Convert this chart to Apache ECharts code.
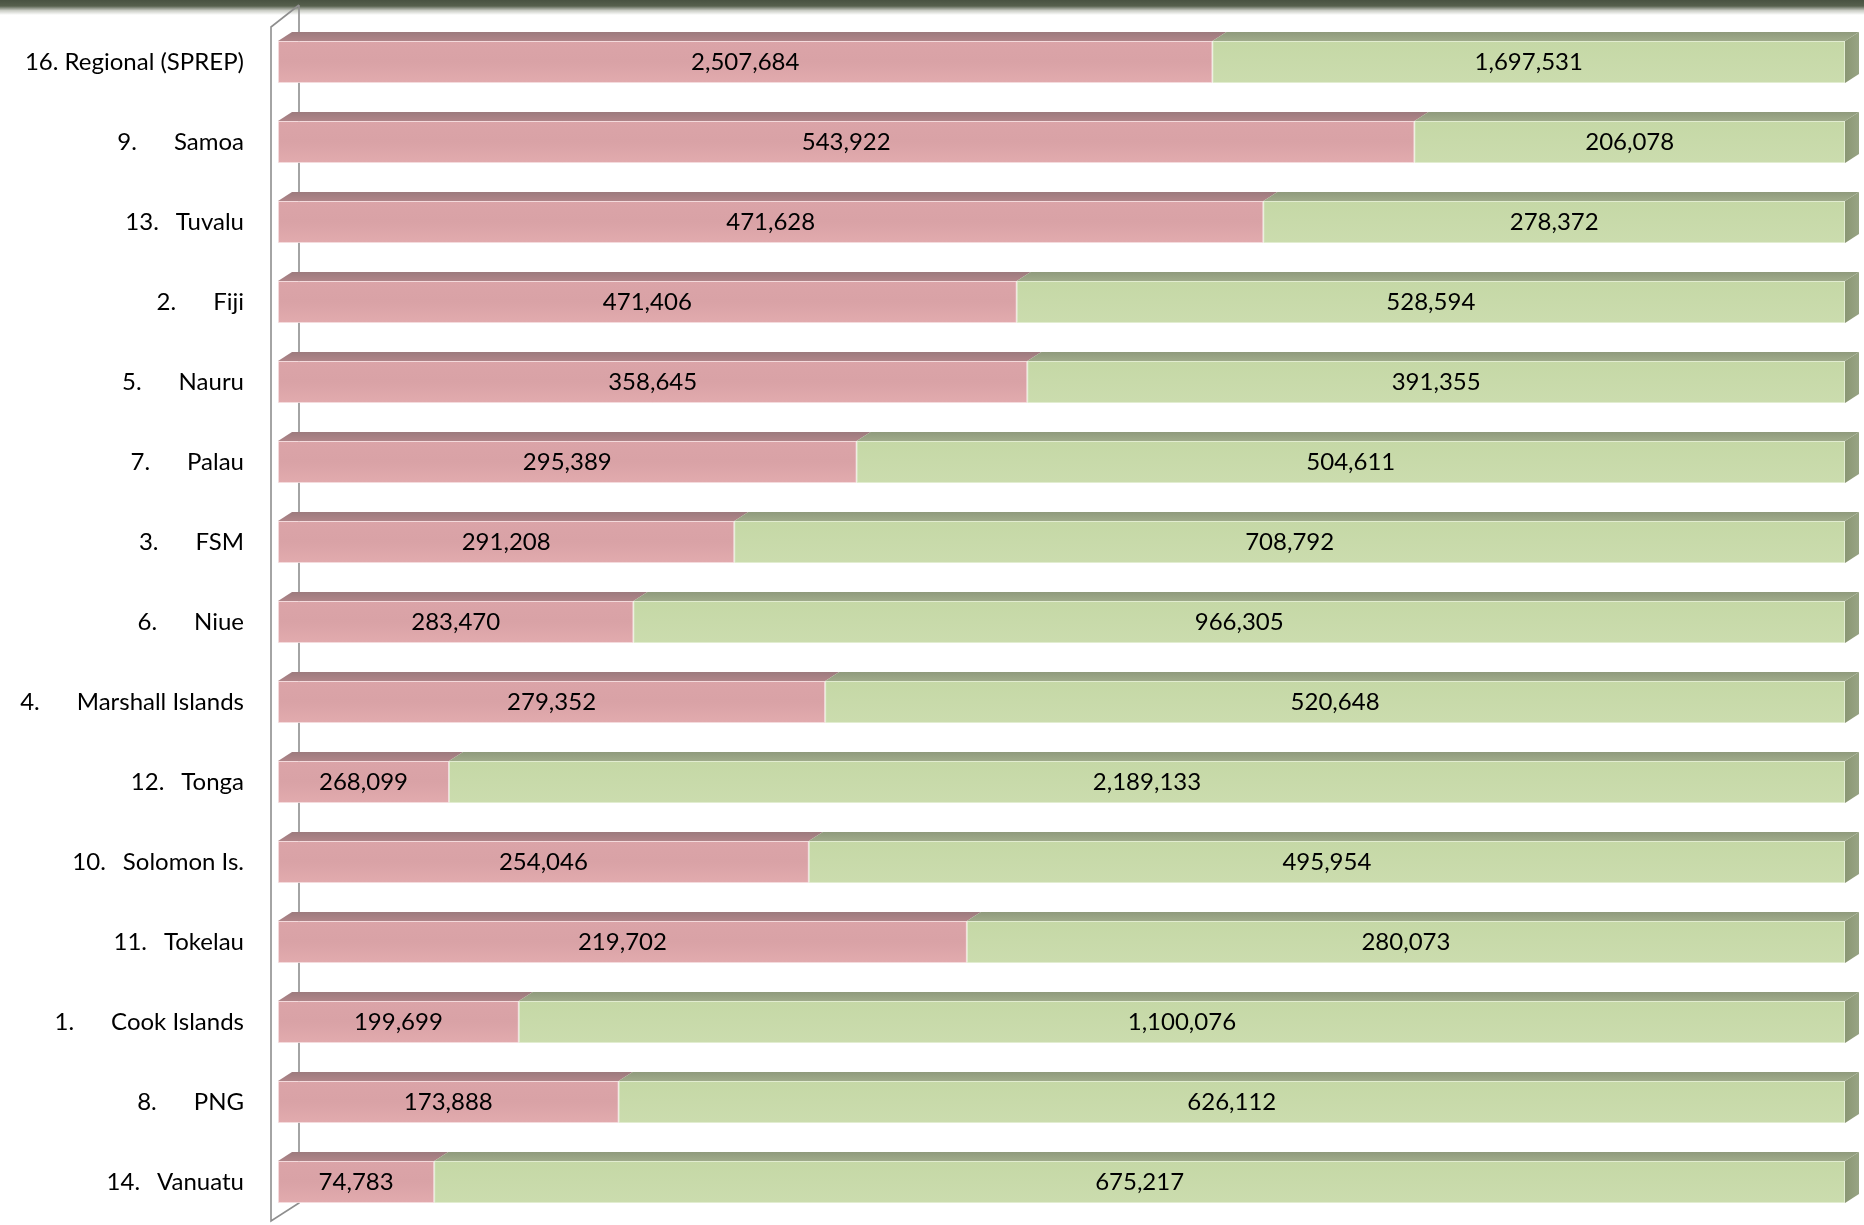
<!DOCTYPE html>
<html>
<head>
<meta charset="utf-8">
<script src="https://cdn.jsdelivr.net/npm/echarts@6/dist/echarts.min.js"></script>
<style>
html,body{margin:0;padding:0;background:#fff;}
#chart{width:1864px;height:1225px;}
</style>
</head>
<body>
<div id="chart"></div>
<script>
// Category labels (\t = list tab between number and name)
const categories = [
  '16. Regional (SPREP)', '9.\tSamoa', '13.\tTuvalu', '2.\tFiji', '5.\tNauru',
  '7.\tPalau', '3.\tFSM', '6.\tNiue', '4.\tMarshall Islands', '12.\tTonga',
  '10.\tSolomon Is.', '11.\tTokelau', '1.\tCook Islands', '8.\tPNG', '14.\tVanuatu'
];
const redValues = [2507684, 543922, 471628, 471406, 358645, 295389, 291208, 283470, 279352, 268099, 254046, 219702, 199699, 173888, 74783];
const greenValues = [1697531, 206078, 278372, 528594, 391355, 504611, 708792, 966305, 520648, 2189133, 495954, 280073, 1100076, 626112, 675217];

const FONT = 'Lato';
const BAR_RATIO = 0.525;
const DX = 14, DY = -9;

const pct = (v, i) => v / (redValues[i] + greenValues[i]) * 100;
const fmt = v => v.toLocaleString('en-US');

const redData = redValues.map((v, i) => ({ value: pct(v, i), raw: v }));
const greenData = greenValues.map((v, i) => ({ value: pct(v, i), raw: v }));
const depthData = redValues.map((v, i) => [i, pct(v, i)]);

function catLabel(s) {
  if (s.indexOf('\t') < 0) return '{t|' + s + '}';
  const parts = s.split('\t');
  const gap = parts[0].length <= 2 ? 37 : 17;
  return '{t|' + parts[0] + '}{g' + gap + '| }{t|' + parts[1] + '}';
}

const chart = echarts.init(document.getElementById('chart'), null, { renderer: 'canvas' });

const option = {
  backgroundColor: '#ffffff',
  animation: false,
  grid: { left: 278, right: 19, top: 22, bottom: 3, containLabel: false },
  xAxis: {
    type: 'value', min: 0, max: 100,
    show: false
  },
  yAxis: {
    type: 'category',
    data: categories,
    inverse: true,
    axisLine: { show: false },
    axisTick: { show: false },
    splitLine: { show: false },
    axisLabel: {
      margin: 34,
      formatter: catLabel,
      rich: {
        t: { fontFamily: FONT, fontSize: 24, color: '#000' },
        g37: { width: 37, fontFamily: FONT, fontSize: 24 },
        g17: { width: 17, fontFamily: FONT, fontSize: 24 }
      }
    }
  },
  graphic: [
    {
      type: 'rect', z: 0,
      shape: { x: 0, y: 0, width: 1864, height: 15 },
      style: {
        fill: new echarts.graphic.LinearGradient(0, 0, 0, 1, [
          { offset: 0, color: '#485241' },
          { offset: 0.4, color: '#56604d' },
          { offset: 0.7, color: '#c9ccc4' },
          { offset: 1, color: '#ffffff' }
        ])
      }
    },
    {
      type: 'polyline', z: 0,
      shape: { points: [[299, 5], [271, 27], [271, 1221], [299, 1203], [299, 5]] },
      style: { stroke: '#8e8e8e', lineWidth: 1.6, fill: null }
    }
  ],
  series: [
    {
      type: 'custom',
      name: 'depth',
      coordinateSystem: 'cartesian2d',
      encode: { x: 1, y: 0 },
      z: 3,
      silent: true,
      data: depthData,
      renderItem: function (params, api) {
        const cat = api.value(0);
        const rp = api.value(1);
        const p0 = api.coord([0, cat]);
        const p1 = api.coord([rp, cat]);
        const p2 = api.coord([100, cat]);
        const band = api.size([0, 1])[1];
        const half = band * BAR_RATIO / 2;
        const top = p0[1] - half, bot = p0[1] + half;
        const x0 = p0[0], x1 = p1[0], x2 = p2[0];
        return {
          type: 'group',
          children: [
            {
              type: 'polygon',
              shape: { points: [[x0, top], [x0 + DX, top + DY], [x1 + DX, top + DY], [x1, top]] },
              style: { fill: new echarts.graphic.LinearGradient(0, 0, 0, 1, [
                { offset: 0, color: '#9c7a7d' }, { offset: 1, color: '#b08589' }]) }
            },
            {
              type: 'polygon',
              shape: { points: [[x1, top], [x1 + DX, top + DY], [x2 + DX, top + DY], [x2, top]] },
              style: { fill: new echarts.graphic.LinearGradient(0, 0, 0, 1, [
                { offset: 0, color: '#8f9a7c' }, { offset: 1, color: '#a0ab8b' }]) }
            },
            {
              type: 'polygon',
              shape: { points: [[x2, top], [x2 + DX, top + DY], [x2 + DX, bot + DY], [x2, bot]] },
              style: { fill: new echarts.graphic.LinearGradient(0, 0, 1, 0, [
                { offset: 0, color: '#8a9673' }, { offset: 1, color: '#98a484' }]) }
            }
          ]
        };
      }
    },
    {
      type: 'bar',
      name: 'red',
      stack: 'total',
      barWidth: (BAR_RATIO * 100) + '%',
      z: 2,
      data: redData,
      itemStyle: {
        color: new echarts.graphic.LinearGradient(0, 0, 0, 1, [
          { offset: 0, color: '#dba4a8' },
          { offset: 0.5, color: '#d9a2a6' },
          { offset: 1, color: '#e2abae' }
        ]),
        borderColor: 'rgba(245,220,222,0.8)',
        borderWidth: 1
      },
      label: {
        show: true, position: 'inside',
        fontFamily: FONT, fontSize: 24, color: '#000',
        formatter: p => fmt(p.data.raw)
      }
    },
    {
      type: 'bar',
      name: 'green',
      stack: 'total',
      barWidth: (BAR_RATIO * 100) + '%',
      z: 2,
      data: greenData,
      itemStyle: {
        color: new echarts.graphic.LinearGradient(0, 0, 0, 1, [
          { offset: 0, color: '#c5d8a6' },
          { offset: 0.5, color: '#c8daaa' },
          { offset: 1, color: '#cbdcae' }
        ]),
        borderColor: 'rgba(225,236,208,0.8)',
        borderWidth: 1
      },
      label: {
        show: true, position: 'inside',
        fontFamily: FONT, fontSize: 24, color: '#000',
        formatter: p => fmt(p.data.raw)
      }
    }
  ]
};

chart.setOption(option);
</script>
</body>
</html>
